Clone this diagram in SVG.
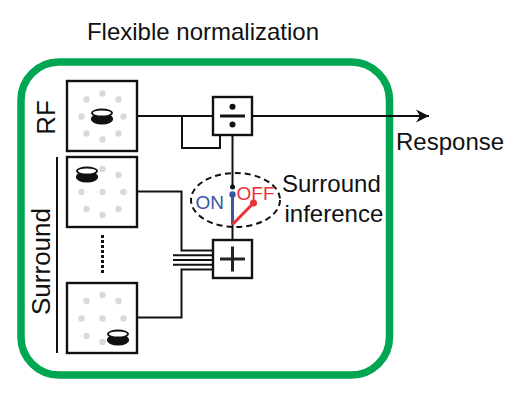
<svg xmlns="http://www.w3.org/2000/svg" width="530" height="420" viewBox="0 0 530 420">
<defs>
<style>
text{font-family:"Liberation Sans",Arial,Helvetica,sans-serif;fill:#111}
.box{fill:#fff;stroke:#111;stroke-width:2.4}
.ln{fill:none;stroke:#111;stroke-width:2}
.dot{fill:#d9d9d9}
</style>
<marker id="arr" viewBox="0 0 14 14" refX="13" refY="7" markerWidth="14" markerHeight="14" markerUnits="userSpaceOnUse" orient="auto">
<path d="M13,7 L0,0.5 L4,7 L0,13.5 Z" fill="#111"/>
</marker>
<g id="ring">
<circle class="dot" cx="0" cy="-23" r="3.2"/>
<circle class="dot" cx="16" cy="-17" r="3.2"/>
<circle class="dot" cx="21" cy="0" r="3.2"/>
<circle class="dot" cx="16" cy="17" r="3.2"/>
<circle class="dot" cx="0" cy="23" r="3.2"/>
<circle class="dot" cx="-16" cy="17" r="3.2"/>
<circle class="dot" cx="-21" cy="0" r="3.2"/>
<circle class="dot" cx="-16" cy="-17" r="3.2"/>
</g>
<g id="coin">
<ellipse cx="0" cy="3" rx="11.2" ry="5.5" fill="#111"/>
<ellipse cx="0" cy="-3" rx="10" ry="3.5" fill="#fff" stroke="#111" stroke-width="1.8"/>
</g>
</defs>
<rect width="530" height="420" fill="#fff"/>
<text x="203" y="40" font-size="24" text-anchor="middle">Flexible normalization</text>
<rect id="frame" x="21" y="62" width="368.5" height="313" rx="38" ry="38" fill="none" stroke="#00a651" stroke-width="7.5"/>

<g id="connectors">
<line class="ln" x1="137" y1="116" x2="213" y2="116"/>
<line class="ln" x1="252" y1="116" x2="429" y2="116" marker-end="url(#arr)"/>
<polyline class="ln" points="182,116 182,148 220,148 220,135"/>
<line class="ln" x1="232.5" y1="135" x2="232.5" y2="187"/>
<line class="ln" x1="232.5" y1="224.5" x2="232.5" y2="240"/>
<polyline class="ln" points="137,191.5 181.5,191.5 181.5,250.5 213,250.5"/>
<line class="ln" x1="173" y1="255.25" x2="213" y2="255.25"/>
<line class="ln" x1="173" y1="260" x2="213" y2="260"/>
<line class="ln" x1="173" y1="264.75" x2="213" y2="264.75"/>
<polyline class="ln" points="137,317.5 181.5,317.5 181.5,269.5 213,269.5"/>
<line x1="57" y1="157" x2="57" y2="353" stroke="#111" stroke-width="2"/>
<line x1="102.5" y1="235" x2="102.5" y2="273" stroke="#111" stroke-width="3" stroke-dasharray="3 2"/>
</g>

<g id="rf">
<rect class="box" x="67" y="81" width="70" height="70"/>
<use href="#ring" x="102.5" y="116.5"/>
<use href="#coin" x="102" y="116"/>
<text transform="translate(55,117.5) rotate(-90)" font-size="26" text-anchor="middle">RF</text>
</g>

<g id="surround1">
<rect class="box" x="67" y="157" width="70" height="70"/>
<circle class="dot" cx="102.5" cy="169" r="3.2"/>
<circle class="dot" cx="118.5" cy="175" r="3.2"/>
<circle class="dot" cx="123.5" cy="192" r="3.2"/>
<circle class="dot" cx="118.5" cy="209" r="3.2"/>
<circle class="dot" cx="102.5" cy="215" r="3.2"/>
<circle class="dot" cx="86.5" cy="209" r="3.2"/>
<circle class="dot" cx="81.5" cy="192" r="3.2"/>
<circle class="dot" cx="102.5" cy="192" r="3.2"/>
<use href="#coin" x="87" y="174"/>
</g>

<g id="surround2">
<rect class="box" x="67" y="283" width="70" height="70"/>
<circle class="dot" cx="102.5" cy="295" r="3.2"/>
<circle class="dot" cx="118.5" cy="301" r="3.2"/>
<circle class="dot" cx="123.5" cy="318.5" r="3.2"/>
<circle class="dot" cx="102.5" cy="318.5" r="3.2"/>
<circle class="dot" cx="102.5" cy="342" r="3.2"/>
<circle class="dot" cx="86.5" cy="336" r="3.2"/>
<circle class="dot" cx="81.5" cy="318.5" r="3.2"/>
<circle class="dot" cx="86.5" cy="301" r="3.2"/>
<use href="#coin" x="118" y="337"/>
</g>

<text transform="translate(50,261.5) rotate(-90)" font-size="26" text-anchor="middle">Surround</text>

<g id="divide">
<rect class="box" x="213" y="97" width="39" height="38"/>
<line x1="220" y1="116" x2="245" y2="116" stroke="#111" stroke-width="3"/>
<circle cx="232.5" cy="106.7" r="3" fill="#111"/>
<circle cx="232.5" cy="124.5" r="3" fill="#111"/>
</g>

<g id="sum">
<rect class="box" x="213" y="240" width="39" height="38"/>
<line x1="220" y1="259" x2="245" y2="259" stroke="#222" stroke-width="3"/>
<line x1="232.5" y1="246.5" x2="232.5" y2="271.5" stroke="#222" stroke-width="3"/>
</g>

<g id="switch">
<ellipse cx="235.5" cy="200" rx="44.5" ry="27" fill="none" stroke="#111" stroke-width="2" stroke-dasharray="6 4"/>
<circle cx="232.5" cy="187" r="2.5" fill="#111"/>
<line x1="232.5" y1="194.5" x2="232.5" y2="224.5" stroke="#3a55a4" stroke-width="3"/>
<circle cx="232.5" cy="194.5" r="3.2" fill="#3a55a4"/>
<line x1="232.5" y1="224.5" x2="253.5" y2="203" stroke="#ec3038" stroke-width="3"/>
<circle cx="253.5" cy="203" r="3.5" fill="#ec3038"/>
<text x="195.5" y="208.5" font-size="19" style="fill:#3a55a4">ON</text>
<text x="236.5" y="200" font-size="19" style="fill:#ec3038">OFF</text>
<text x="282" y="191.5" font-size="24">Surround</text>
<text x="284.5" y="221.5" font-size="24">inference</text>
</g>

<text x="396" y="150" font-size="24">Response</text>
</svg>
